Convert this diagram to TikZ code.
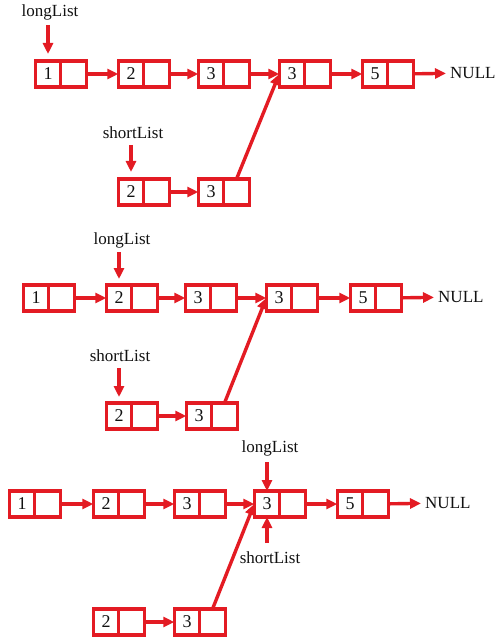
\documentclass[tikz,border=0pt]{standalone}
\usepackage{fontspec}
\setmainfont{Liberation Serif}
\usepackage{tikz}
\usetikzlibrary{positioning,arrows.meta}
\usepackage{xcolor}
\definecolor{listred}{HTML}{E31B23}
\definecolor{textdark}{HTML}{111111}

% one list element: value cell (#1) and pointer cell (#1p)
\newcommand{\lnode}[3]{%
	\node[valcell] (#1) at (#2) {#3};
	\node[ptrcell, right=0pt of #1] (#1p) {};
}

\tikzset{
	valcell/.style={draw=listred, line width=3.4pt, minimum width=25.5pt, minimum height=26pt, inner sep=0pt, outer sep=0pt, text=textdark, font=\fontsize{18}{20}\selectfont},
	ptrcell/.style={valcell},
	link/.style={draw=listred, line width=3.4pt, -{Triangle[length=11pt,width=10pt]}},
	lbl/.style={text=textdark, font=\fontsize{17}{19}\selectfont, inner sep=0pt},
}

\begin{document}
\begin{tikzpicture}[x=1pt, y=-1pt]
					\useasboundingbox (0,0) rectangle (499,639);
					% first state
					\lnode{a1}{48,74}{1}
					\lnode{a2}{131,74}{2}
					\lnode{a3}{211,74}{3}
					\lnode{a4}{292,74}{3}
					\lnode{a5}{375,74}{5}
					\lnode{b1}{131,192}{2}
					\lnode{b2}{211,192}{3}
					\node[lbl, anchor=west] (anull) at (450,73) {NULL};
					\node[lbl] (along) at (50,12) {longList};
					\node[lbl] (ashort) at (133,133) {shortList};
					\draw[link] (a1p) -- (a2);
					\draw[link] (a2p) -- (a3);
					\draw[link] (a3p) -- (a4);
					\draw[link] (a4p) -- (a5);
					\draw[link, shorten >=4pt] (a5p) -- (anull);
					\draw[link] (b1p) -- (b2);
					\draw[link] (b2p.north) -- (a4.west);
					\draw[link, shorten >=7pt] (48,25) -- (a1.north);
					\draw[link, shorten >=7pt] (131,145) -- (b1.north);
					% second state
					\lnode{c1}{36,298}{1}
					\lnode{c2}{119,298}{2}
					\lnode{c3}{198,298}{3}
					\lnode{c4}{279,298}{3}
					\lnode{c5}{363,298}{5}
					\lnode{d1}{119,416}{2}
					\lnode{d2}{199,416}{3}
					\node[lbl, anchor=west] (cnull) at (438,297) {NULL};
					\node[lbl] (clong) at (122,240) {longList};
					\node[lbl] (cshort) at (120,356) {shortList};
					\draw[link] (c1p) -- (c2);
					\draw[link] (c2p) -- (c3);
					\draw[link] (c3p) -- (c4);
					\draw[link] (c4p) -- (c5);
					\draw[link, shorten >=4pt] (c5p) -- (cnull);
					\draw[link] (d1p) -- (d2);
					\draw[link] (d2p.north) -- (c4.west);
					\draw[link, shorten >=6pt] (119,252) -- (c2.north);
					\draw[link, shorten >=6pt] (119,368) -- (d1.north);
					% third state
					\lnode{e1}{22,504}{1}
					\lnode{e2}{106,504}{2}
					\lnode{e3}{187,504}{3}
					\lnode{e4}{267,504}{3}
					\lnode{e5}{350,504}{5}
					\lnode{f1}{106,622}{2}
					\lnode{f2}{187,622}{3}
					\node[lbl, anchor=west] (enull) at (425,503) {NULL};
					\node[lbl] (elong) at (270,448) {longList};
					\node[lbl] (eshort) at (270,558) {shortList};
					\draw[link] (e1p) -- (e2);
					\draw[link] (e2p) -- (e3);
					\draw[link] (e3p) -- (e4);
					\draw[link] (e4p) -- (e5);
					\draw[link, shorten >=4pt] (e5p) -- (enull);
					\draw[link] (f1p) -- (f2);
					\draw[link] (f2p.north) -- (e4.west);
					\draw[link] (267,462) -- (e4.north);
					\draw[link] (267,543) -- (e4.south);
				\end{tikzpicture}
\end{document}
